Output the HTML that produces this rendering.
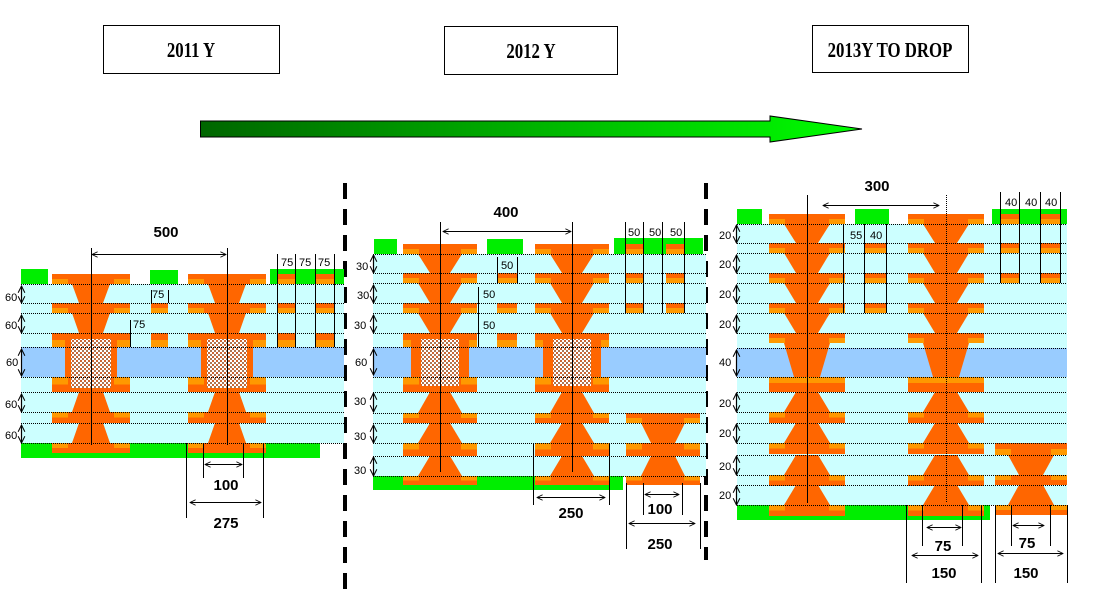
<!DOCTYPE html>
<html><head><meta charset="utf-8">
<style>
html,body{margin:0;padding:0;background:#fff;}
svg{display:block;}
.s{font-family:"Liberation Sans",Arial,sans-serif;font-size:11px;fill:#000;}
.b{font-family:"Liberation Sans",Arial,sans-serif;font-size:15px;font-weight:bold;fill:#000;text-anchor:middle;}
.h{font-family:"Liberation Serif",serif;font-size:21px;font-weight:bold;fill:#000;text-anchor:middle;}
</style></head>
<body>
<svg id="sv" width="1120" height="595" viewBox="0 0 1120 595" xmlns="http://www.w3.org/2000/svg">
<defs>
<linearGradient id="ag" x1="0" x2="1" y1="0" y2="0">
<stop offset="0" stop-color="#006600"/><stop offset="1" stop-color="#00ff00"/>
</linearGradient>
<pattern id="dots" width="4" height="4" patternUnits="userSpaceOnUse">
<rect width="4" height="4" fill="#fff"/>
<rect x="0" y="0" width="2" height="2" fill="#cc6633"/>
<rect x="2" y="2" width="2" height="2" fill="#aa7755"/>
</pattern>
<marker id="ah" viewBox="0 0 10 10" refX="9" refY="5" markerWidth="7" markerHeight="7" orient="auto-start-reverse">
<path d="M1,1 L9,5 L1,9" fill="none" stroke="#000" stroke-width="1.2"/>
</marker>
</defs>
<rect x="103.5" y="25.5" width="176" height="48" fill="#fff" stroke="#000"/>
<rect x="444.5" y="26.5" width="173" height="48" fill="#fff" stroke="#000"/>
<rect x="812.5" y="25.5" width="156" height="47" fill="#fff" stroke="#000"/>
<text class="h" x="191" y="57" transform="translate(191 0) scale(0.8 1) translate(-191 0)">2011  Y</text>
<text class="h" x="531" y="58" transform="translate(531 0) scale(0.8 1) translate(-531 0)">2012  Y</text>
<text class="h" x="890" y="57" transform="translate(890 0) scale(0.8 1) translate(-890 0)">2013Y  TO  DROP</text>
<path d="M200.5,121 L770,121 L770,116 L862,129 L770,142 L770,137 L200.5,137 Z" fill="url(#ag)" stroke="#000" stroke-width="1"/>
<line x1="345" y1="183" x2="345" y2="592" stroke="#000" stroke-width="4" stroke-dasharray="16,10"/>
<line x1="706" y1="183" x2="706" y2="560" stroke="#000" stroke-width="4" stroke-dasharray="16,10"/>
<g id="shapes"></g>
<g id="lines"></g>
<text class="b" x="166" y="237">500</text>
<text class="b" x="226" y="490">100</text>
<text class="b" x="226" y="528">275</text>
<text class="s" x="281" y="266">75</text><text class="s" x="299" y="266">75</text><text class="s" x="318" y="266">75</text>
<text class="s" x="152" y="298">75</text>
<text class="s" x="133" y="328">75</text>
<text class="s" x="5" y="301">60</text><text class="s" x="5" y="329">60</text><text class="s" x="6" y="366">60</text>
<text class="s" x="5" y="408">60</text><text class="s" x="5" y="439">60</text>
<text class="b" x="506" y="217">400</text>
<text class="b" x="571" y="518">250</text>
<text class="b" x="660" y="514">100</text>
<text class="b" x="660" y="549">250</text>
<text class="s" x="628" y="236">50</text><text class="s" x="649" y="236">50</text><text class="s" x="670" y="236">50</text>
<text class="s" x="501" y="269">50</text>
<text class="s" x="483" y="298">50</text>
<text class="s" x="483" y="329">50</text>
<text class="s" x="356" y="270">30</text><text class="s" x="357" y="299">30</text><text class="s" x="354" y="329">30</text>
<text class="s" x="355" y="366">60</text><text class="s" x="354" y="405">30</text><text class="s" x="354" y="440">30</text><text class="s" x="354" y="474">30</text>
<text class="b" x="877" y="191">300</text>
<text class="b" x="943" y="551">75</text>
<text class="b" x="944" y="578">150</text>
<text class="b" x="1027" y="548">75</text>
<text class="b" x="1026" y="578">150</text>
<text class="s" x="1005" y="206">40</text><text class="s" x="1025" y="206">40</text><text class="s" x="1045" y="206">40</text>
<text class="s" x="850" y="239">55</text><text class="s" x="870" y="239">40</text>
<text class="s" x="719" y="239">20</text><text class="s" x="719" y="268">20</text><text class="s" x="719" y="298">20</text><text class="s" x="719" y="328">20</text>
<text class="s" x="719" y="366">40</text><text class="s" x="719" y="407">20</text><text class="s" x="719" y="437">20</text>
<text class="s" x="719" y="470">20</text><text class="s" x="719" y="499">20</text>
</svg>
<script>
(function(){
var NS="http://www.w3.org/2000/svg";
var G=document.getElementById("shapes"), L=document.getElementById("lines");
function el(p,tag,a){var e=document.createElementNS(NS,tag);for(var k in a)e.setAttribute(k,a[k]);p.appendChild(e);return e;}
function rect(x,y,w,h,f,p){return el(p||G,"rect",{x:x,y:y,width:w,height:h,fill:f});}
function poly(pts,f){el(G,"polygon",{points:pts.map(function(p){return p.join(",");}).join(" "),fill:f});}
var OR="#ff6600",LO="#ff9900",CY="#ccffff",BL="#99ccff",GR="#00ee00";
function pad(x0,x1,y0,y1,top){
  rect(x0,y0,x1-x0,y1-y0,OR);
  var hh=(y1-y0)/2, ly=top?y0+hh:y0;
  var e=Math.min(16,(x1-x0)/4);
  if(x1-x0<30){rect(x0,ly,x1-x0,hh,LO);return;}
  rect(x0,ly,e,hh,LO);rect(x1-e,ly,e,hh,LO);
}
function cone(cx,y0,y1,wt,wb){poly([[cx-wt,y0],[cx+wt,y0],[cx+wb,y1],[cx-wb,y1]],OR);}
function hl(x0,x1,y){el(L,"line",{x1:x0,y1:y+0.5,x2:x1,y2:y+0.5,stroke:"#000","stroke-width":1,"stroke-dasharray":"1,1"});}
function vl(x,y0,y1,dash){var a={x1:x+0.5,y1:y0,x2:x+0.5,y2:y1,stroke:"#000","stroke-width":1};if(dash)a["stroke-dasharray"]="1,1";el(L,"line",a);}
function arr(x0,x1,y){el(L,"line",{x1:x0,y1:y+0.5,x2:x1,y2:y+0.5,stroke:"#000","stroke-width":1,"marker-start":"url(#ah)","marker-end":"url(#ah)"});}
function varr(x,y0,y1){el(L,"line",{x1:x+0.5,y1:y0,x2:x+0.5,y2:y1,stroke:"#000","stroke-width":1.2,"marker-start":"url(#ah)","marker-end":"url(#ah)"});}

/* Panel 1 */
rect(21,284,323,159,CY);rect(21,347,323,30,BL);
rect(21,443,299,15,GR);
rect(21,269,27,15,GR);rect(150,270,28,14,GR);rect(270,269,74,15,GR);
[91,227].forEach(function(c){
  pad(c-39,c+39,274,284,true);cone(c,284,303,19,12);
  pad(c-39,c+39,303,313,true);cone(c,313,333,19,12);
  pad(c-39,c+39,333,347,true);
  rect(c-26,340,52,45,OR);
  pad(c-39,c+39,377,392,false);
  cone(c,392,412,12,19);pad(c-39,c+39,412,423,false);
  cone(c,423,443,12,19);pad(c-39,c+39,443,453,false);
  rect(c-20,339,40,49,"url(#dots)");
});
[[277,295],[315,334]].forEach(function(p){pad(p[0],p[1],274,284,true);pad(p[0],p[1],303,313,true);pad(p[0],p[1],333,347,true);});
pad(151,168,303,313,true);pad(151,168,333,347,true);
[284,303,313,333,347,377,392,412,423,443].forEach(function(y){hl(21,344,y);});
vl(91,248,445);vl(227,248,445);arr(92,226,254);
vl(277,254,347);vl(295,254,347);vl(315,254,347);vl(334,254,347);
vl(151,290,303);vl(168,290,303);vl(130,320,347);
vl(203,443,478);vl(243,443,478);arr(205,242,464);
vl(186,443,518);vl(263,443,518);arr(190,261,502);
[[286,303],[315,333],[349,376],[394,412],[425,443]].forEach(function(r){varr(21,r[0],r[1]);});

/* Panel 2 */
rect(373,254,333,222,CY);rect(373,347,333,30,BL);
rect(373,476,250,14,GR);
rect(374,239,23,15,GR);rect(487,239,36,15,GR);rect(614,238,89,16,GR);
[440,572].forEach(function(c){
  pad(c-37,c+37,244,254,true);cone(c,254,273,22,10);
  pad(c-37,c+37,273,283,true);cone(c,283,303,22,10);
  pad(c-37,c+37,303,313,true);cone(c,313,333,22,10);
  pad(c-37,c+37,333,347,true);
  rect(c-29,340,58,48,OR);
  pad(c-37,c+37,377,392,false);
  cone(c,392,413,10,22);pad(c-37,c+37,413,423,false);
  cone(c,423,443,10,22);pad(c-37,c+37,443,456,false);
  cone(c,456,476,10,22);pad(c-37,c+37,476,485,false);
  rect(c-19,339,38,47,"url(#dots)");
});
[[625,643],[666,684]].forEach(function(p){pad(p[0],p[1],244,254,true);pad(p[0],p[1],273,283,true);pad(p[0],p[1],303,313,true);});
pad(497,517,273,283,true);pad(497,517,303,313,true);pad(497,517,333,347,true);
pad(626,700,413,423,true);cone(663,423,443,22,12);pad(626,700,443,456,false);cone(663,456,476,12,22);pad(626,700,476,485,false);
[254,273,283,303,313,333,347,377,392,413,423,443,456,476].forEach(function(y){hl(373,706,y);});
vl(440,222,472);vl(572,222,472);arr(443,571,231);
vl(625,222,313);vl(643,222,313);vl(662,222,313);vl(684,222,313);
vl(497,257,283);vl(517,257,283);vl(478,287,347);
vl(533,443,505);vl(609,443,505);arr(537,605,497);
vl(643,483,515);vl(682,483,515);arr(645,679,494);
vl(626,483,549);vl(700,483,549);arr(629,695,523);
[[255,273],[285,303],[315,333],[349,375],[393,412],[425,443],[457,476]].forEach(function(r){varr(373,r[0],r[1]);});

/* Panel 3 */
rect(737,224,330,281,CY);rect(737,348,330,29,BL);
rect(737,505,253,15,GR);
rect(737,209,25,15,GR);rect(855,209,34,15,GR);rect(992,209,75,15,GR);
[807,946].forEach(function(c){
  pad(c-38,c+38,214,224,true);
  [[224,243],[253,273],[283,303],[313,333]].forEach(function(r){cone(c,r[0],r[1],23,11);pad(c-38,c+38,r[1],r[1]+10,true);});
  poly([[c-23,343],[c+23,343],[c+13,377],[c-13,377]],OR);
  rect(c-38,377,76,15,OR);
  rect(c-38,377,76,6,LO);
  [[392,412],[423,443],[455,475],[485,505]].forEach(function(r){cone(c,r[0],r[1],11,23);pad(c-38,c+38,r[1],r[1]+11,false);});
});
[[1000,1019],[1040,1060]].forEach(function(p){pad(p[0],p[1],214,224,true);pad(p[0],p[1],243,253,true);pad(p[0],p[1],273,283,true);});
pad(865,886,243,253,true);pad(865,886,273,283,true);pad(865,886,303,313,true);
pad(995,1067,443,455,true);cone(1031,455,475,23,12);pad(995,1067,475,485,false);cone(1031,485,505,12,23);pad(995,1067,505,515,false);
[224,243,253,273,283,303,313,333,348,377,392,412,423,443,455,475,485,505].forEach(function(y){hl(737,1067,y);});
vl(807,195,503);vl(946,195,503,true);arr(823,939,205);
vl(1000,192,283);vl(1019,192,283);vl(1040,192,283);vl(1060,192,283);
vl(843,224,313);vl(864,224,313);vl(886,224,313);
vl(922,505,546);vl(962,505,546);arr(927,961,527);
vl(906,505,583);vl(981,505,583);arr(912,978,555);
vl(1011,505,546);vl(1050,505,546);arr(1013,1044,525);
vl(995,505,583);vl(1067,505,583);arr(998,1063,553);
[[225,243],[255,273],[285,303],[315,333],[350,376],[393,412],[424,443],[456,475],[486,505]].forEach(function(r){varr(736,r[0],r[1]);});
})();
</script>
</body></html>
